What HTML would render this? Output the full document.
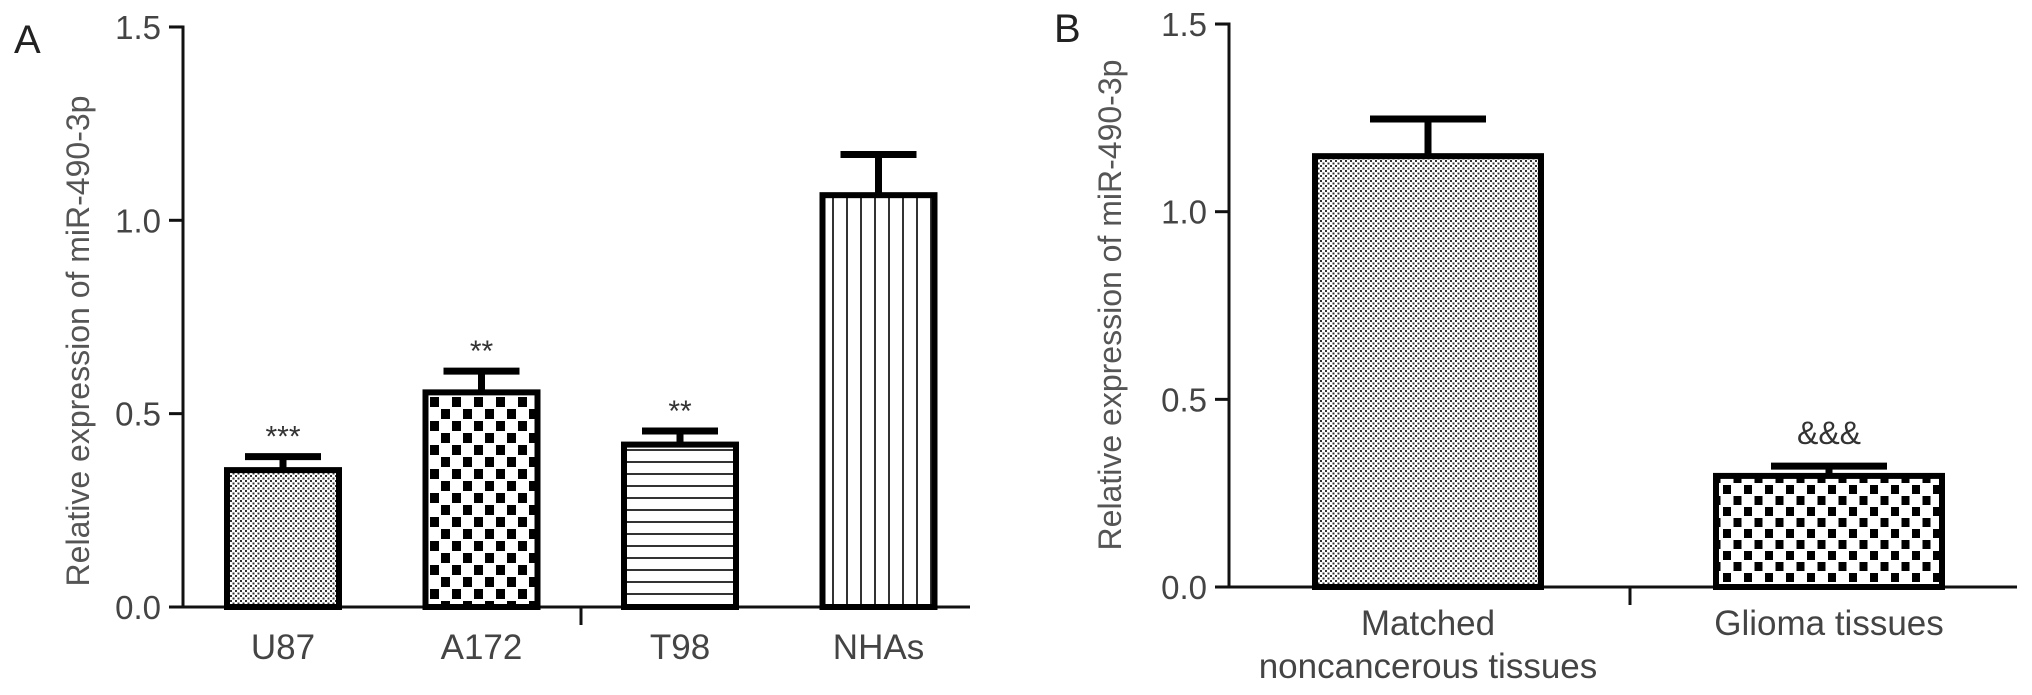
<!DOCTYPE html>
<html><head><meta charset="utf-8"><style>
html,body{margin:0;padding:0;background:#fff;}
svg{display:block;}
text{font-family:"Liberation Sans",sans-serif;}
</style></head><body>
<svg id="chart" width="2032" height="695" viewBox="0 0 2032 695" xmlns="http://www.w3.org/2000/svg">
<defs>
<pattern id="pDots" width="5" height="5" patternUnits="userSpaceOnUse"><rect width="5" height="5" fill="#fff"/><rect x="0" y="0" width="2" height="2" fill="#333"/><rect x="2.5" y="2.5" width="2" height="2" fill="#333"/></pattern>
<pattern id="pCheck" width="22" height="24" patternUnits="userSpaceOnUse"><rect width="22" height="24" fill="#fff"/><rect x="1" y="1" width="9" height="10" fill="#000"/><rect x="12" y="13" width="9" height="10" fill="#000"/></pattern>
<pattern id="pCheck2" width="21" height="22" patternUnits="userSpaceOnUse"><rect width="21" height="22" fill="#fff"/><rect x="1" y="1" width="8" height="9" fill="#000"/><rect x="11.5" y="12" width="8" height="9" fill="#000"/></pattern>
<pattern id="pHoriz" width="10" height="12" patternUnits="userSpaceOnUse"><rect width="10" height="12" fill="#fff"/><rect y="5" width="10" height="2" fill="#333"/></pattern>
<pattern id="pVert" width="14" height="10" patternUnits="userSpaceOnUse"><rect width="14" height="10" fill="#fff"/><rect x="6" width="2" height="10" fill="#333"/></pattern>
</defs>
<g id="gA"></g>
<g id="gB"></g>
</svg>
<script>
const catsA = ["U87","A172","T98","NHAs"];
const valsA = [0.354,0.555,0.42,1.065];
const errA = [0.035,0.055,0.035,0.105];
const sigA = ["***","**","**",""];
const catsB = ["Matched|noncancerous tissues","Glioma tissues"];
const valsB = [1.148,0.296];
const errB = [0.099,0.026];
const sigB = ["","&&&"];
const ticks = [0,0.5,1.0,1.5];
const tickLabels = ["0.0","0.5","1.0","1.5"];

const NS="http://www.w3.org/2000/svg";
function mk(parent,tag,attrs){const e=document.createElementNS(NS,tag);for(const k in attrs)e.setAttribute(k,attrs[k]);parent.appendChild(e);return e;}

function panel(g,cfg,cats,vals,errs,sigs,fills){
  const y=v=>cfg.y0-v*cfg.k;
  const x=i=>cfg.c0+i*cfg.step;
  const axis=mk(g,'path',{d:`M${cfg.ax-14},${y(1.5)} H${cfg.ax} V${cfg.y0} H${cfg.xEnd}`,fill:'none',stroke:'#111','stroke-width':3});
  
  
  ticks.forEach((t,i)=>{
    const tk=mk(g,'line',{x1:cfg.ax-14,x2:cfg.ax,y1:y(t),y2:y(t),stroke:'#111','stroke-width':3});
    
    
    const tl=mk(g,'text',{x:cfg.ax-22,y:y(t)+12,'text-anchor':'end','font-size':33,fill:'#444'});
    tl.textContent=tickLabels[i];
    
    
  });
  const mt=mk(g,'line',{x1:cfg.mid,x2:cfg.mid,y1:cfg.y0,y2:cfg.y0+18,stroke:'#111','stroke-width':3});
  
  
  cats.forEach((c,i)=>{
    const cx=x(i),hw=cfg.bw/2,top=y(vals[i]),et=y(vals[i]+errs[i]);
    const eb=mk(g,'path',{d:`M${cx},${top} V${et} M${cx-cfg.cap},${et} H${cx+cfg.cap}`,stroke:'#000','stroke-width':cfg.capW,fill:'none'});
    
    
    const r=mk(g,'rect',{x:cx-hw,y:top,width:cfg.bw,height:cfg.y0-top,fill:fills[i],stroke:'#000','stroke-width':6});
    
    
    if(sigs[i]){const s=mk(g,'text',{x:cx,y:et-cfg.sigOff,'text-anchor':'middle','font-size':cfg.sigSize,fill:'#333'});s.textContent=sigs[i];
      
      }
    const lines=c.split('|');
    lines.forEach((ln,j)=>{const t=mk(g,'text',{x:cx,y:cfg.labY+j*43,'text-anchor':'middle','font-size':35,fill:'#444'});t.textContent=ln;
      
      });
  });
  const ti=mk(g,'text',{x:cfg.tx,y:cfg.ty,'text-anchor':'middle','font-size':32,fill:'#555',transform:`rotate(-90 ${cfg.tx} ${cfg.ty})`});
  ti.textContent='Relative expression of miR-490-3p';
  
  
  const L=mk(g,'text',{x:cfg.lx,y:cfg.ly,'font-size':40,fill:'#222'});L.textContent=cfg.letter;
  
  
}
panel(document.getElementById('gA'),{y0:607,k:386.7,ax:183,xEnd:970,c0:283,step:198.5,bw:112,cap:38,capW:7,mid:581,labY:659,tx:89,ty:341,lx:14,ly:53,letter:'A',sigOff:10,sigSize:30},catsA,valsA,errA,sigA,['url(#pDots)','url(#pCheck)','url(#pHoriz)','url(#pVert)']);
panel(document.getElementById('gB'),{y0:587,k:375.3,ax:1229,xEnd:2017,c0:1428,step:401,bw:226,cap:58,capW:7,mid:1630,labY:635,tx:1121,ty:305,lx:1054,ly:42,letter:'B',sigOff:22,sigSize:32},catsB,valsB,errB,sigB,['url(#pDots)','url(#pCheck2)']);
</script>
</body></html>
